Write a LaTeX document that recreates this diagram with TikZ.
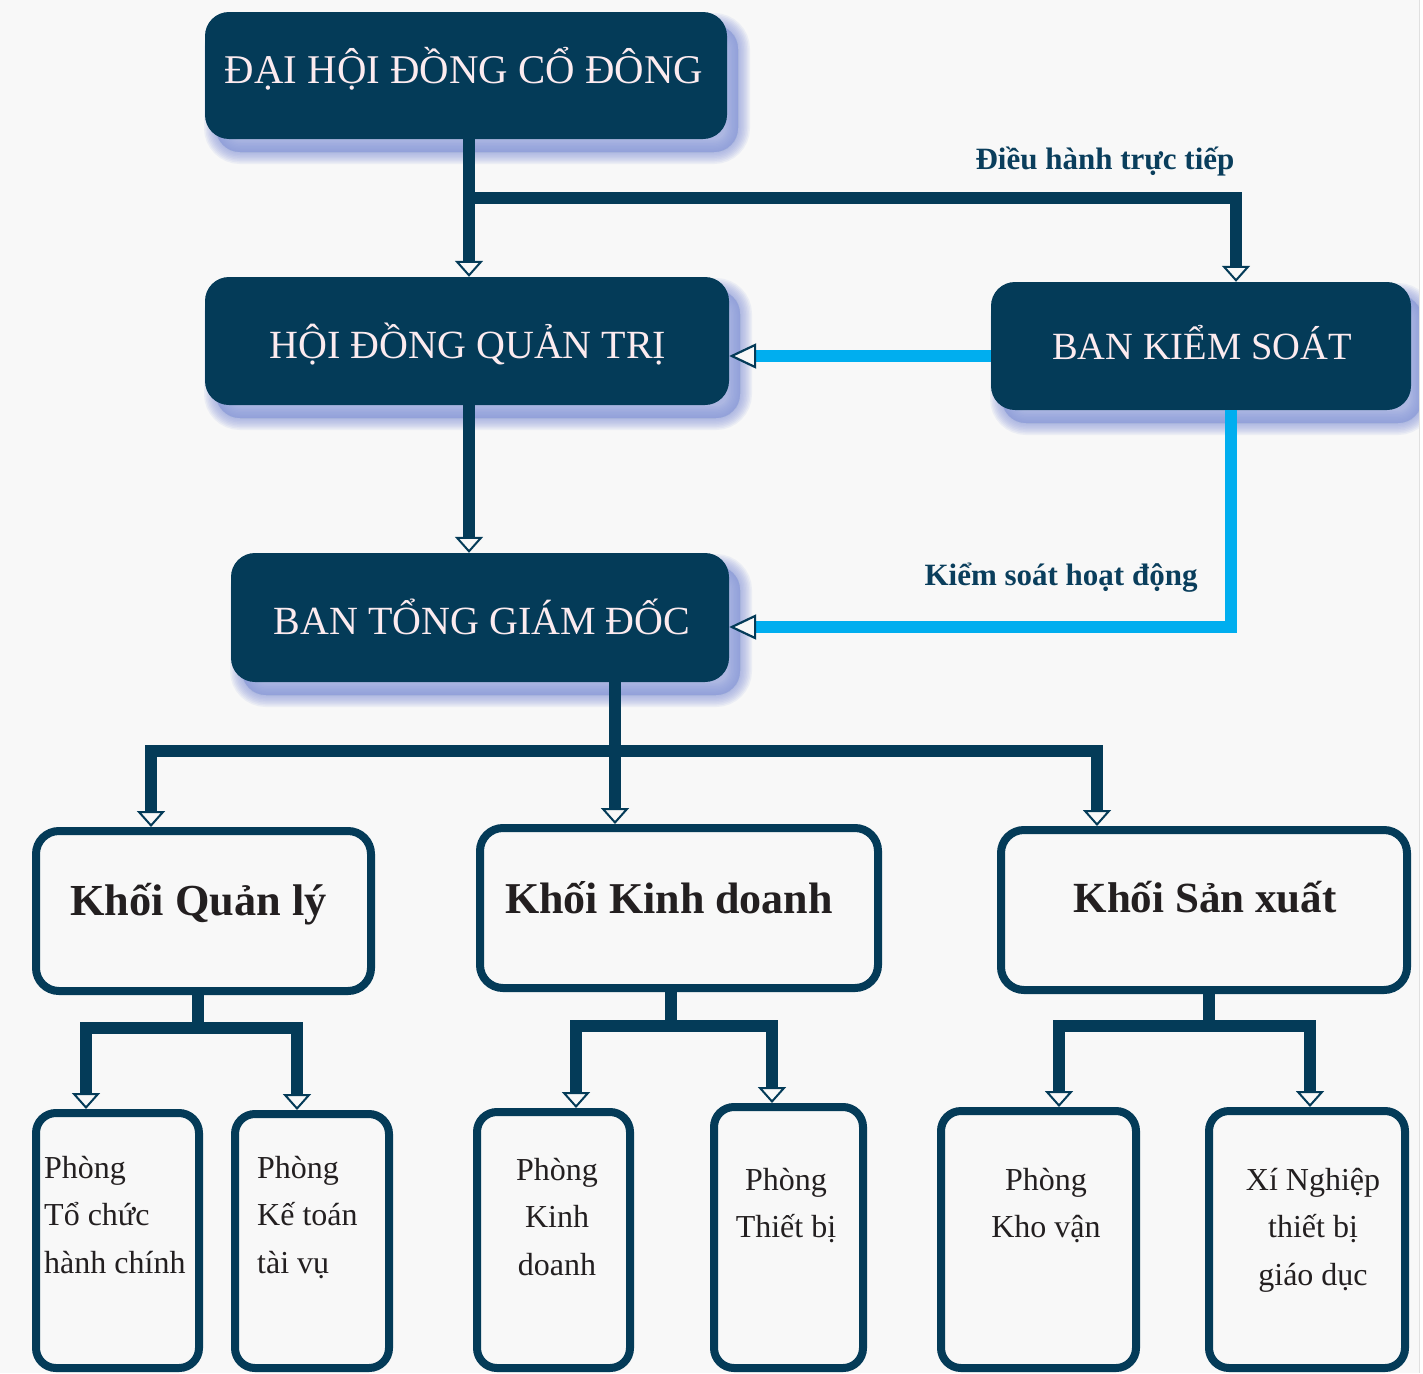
\documentclass[tikz,border=0pt]{standalone}
\usepackage{fontspec}
\setmainfont{Liberation Serif}
\usetikzlibrary{arrows.meta,calc}
\definecolor{navy}{RGB}{4,59,88}
\definecolor{cyanl}{RGB}{0,174,239}
\definecolor{bgc}{RGB}{248,248,248}
\definecolor{shc}{RGB}{136,154,218}
\definecolor{boxtext}{RGB}{252,235,239}
\definecolor{ink}{RGB}{35,31,32}
\definecolor{labc}{RGB}{10,62,92}
\newcommand{\TabC}[1]{\begin{tabular}[t]{@{}c@{}}#1\end{tabular}}
\newcommand{\TabL}[1]{\begin{tabular}[t]{@{}l@{}}#1\end{tabular}}
\begin{document}
\begin{tikzpicture}[x=1pt,y=-1pt,
  shadowlayer/.style={preaction={draw=shc, fill=shc, line width=#1, opacity=0.11,
      transform canvas={shift={(11pt,-13pt)}}}},
  darkbox/.style={shape=rectangle, fill=navy, rounded corners=24pt, inner sep=0pt,
      shadowlayer=24pt, shadowlayer=21pt, shadowlayer=18pt, shadowlayer=15pt,
      shadowlayer=12pt, shadowlayer=9pt, shadowlayer=6pt, shadowlayer=3pt, shadowlayer=0.1pt},
  linebox/.style={shape=rectangle, draw=navy, line width=8pt, fill=bgc, rounded corners=#1, inner sep=0pt},
  toptext/.style={text=boxtext, font=\fontsize{40}{48}\selectfont, anchor=base, inner sep=0pt},
  khoitext/.style={text=ink, font=\bfseries\fontsize{43}{50}\selectfont, anchor=base, inner sep=0pt},
  lab/.style={text=labc, font=\bfseries\fontsize{31}{37}\selectfont, anchor=base, inner sep=0pt},
  subtext/.style={text=ink, font=\fontsize{32}{47.5}\selectfont, inner sep=0pt},
  conn/.style={draw=navy, line width=12pt, line join=miter,
      -{Triangle[color=navy, fill=bgc, width=28pt 0 0, length=16pt 0 0, line width=2pt 0 0]}},
  cconn/.style={draw=cyanl, line width=12pt, line join=miter,
      -{Triangle[color=navy, fill=bgc, width=25pt 0 0, length=27pt 0 0, line width=2.2pt 0 0]}},
]
\useasboundingbox (0,0) rectangle (1423,1373);
\fill[bgc] (0,0) rectangle (1423,1373);

% dark boxes
\node[darkbox, minimum width=522pt, minimum height=127pt] (D) at (466,75.5) {};
\node[darkbox, minimum width=524pt, minimum height=128pt] (H) at (467,341) {};
\node[darkbox, minimum width=420pt, minimum height=128pt] (K) at (1201,346) {};
\node[darkbox, minimum width=498pt, minimum height=129pt] (T) at (480,617.5) {};

% outlined boxes
\node[linebox=23pt, minimum width=335pt, minimum height=160pt] (Q) at (203.5,911) {};
\node[linebox=23pt, minimum width=398pt, minimum height=160pt] (KD) at (679,908) {};
\node[linebox=23pt, minimum width=406pt, minimum height=160pt] (SX) at (1204,910) {};

\node[linebox=20pt, minimum width=163pt, minimum height=255pt] (P1) at (117.5,1240.5) {};
\node[linebox=20pt, minimum width=154pt, minimum height=254pt] (P2) at (312,1241) {};
\node[linebox=20pt, minimum width=153pt, minimum height=256pt] (P3) at (553.5,1240) {};
\node[linebox=20pt, minimum width=149pt, minimum height=261pt] (P4) at (788.5,1237.5) {};
\node[linebox=20pt, minimum width=195pt, minimum height=257pt] (P5) at (1038.5,1239.5) {};
\node[linebox=20pt, minimum width=196pt, minimum height=257pt] (P6) at (1307,1239.5) {};

% helper coordinates
\coordinate (hx) at (469,0);
\coordinate (j1) at (1236,198);
\coordinate (ky) at ([yshift=-10pt]K.west);
\coordinate (kx) at ([xshift=30pt]K.south);
\coordinate (ty) at ([yshift=-9.5pt]T.east);
\coordinate (tx) at (615,751);
\coordinate (bl) at (151,751);
\coordinate (br) at (1097,751);
\coordinate (q0) at (198,1028);
\coordinate (q1) at (86,1028);
\coordinate (q2) at (297,1028);
\coordinate (k0) at (671,1026);
\coordinate (k1) at (576,1026);
\coordinate (k2) at (772,1026);
\coordinate (s0) at (1209,1026);
\coordinate (s1) at (1059,1026);
\coordinate (s2) at (1310,1026);

% connectors
\draw[conn] (D.south -| hx) -- (H.north -| hx);
\draw[conn] (D.south -| hx) |- (j1) -- (j1 |- K.north);
\draw[cconn] (ky) -- (ky -| H.east);
\draw[cconn] (kx) |- (ty);
\draw[conn] (H.south -| hx) -- (T.north -| hx);

\draw[conn] (T.south -| tx) |- (bl) -- (bl |- Q.north);
\draw[conn] (T.south -| tx) -- (KD.north -| tx);
\draw[conn] (T.south -| tx) |- (br) -- (br |- SX.north);

\draw[conn] (Q.south -| q0) |- (q1) -- (q1 |- P1.north);
\draw[conn] (Q.south -| q0) |- (q2) -- (q2 |- P2.north);
\draw[conn] (KD.south -| k0) |- (k1) -- (k1 |- P3.north);
\draw[conn] (KD.south -| k0) |- (k2) -- (k2 |- P4.north);
\draw[conn] (SX.south -| s0) |- (s1) -- (s1 |- P5.north);
\draw[conn] (SX.south -| s0) |- (s2) -- (s2 |- P6.north);

% texts
\node[toptext, font=\fontsize{40.8}{48}\selectfont] (Dt) at (464,83) {ĐẠI HỘI ĐỒNG CỔ ĐÔNG};
\node[toptext] (Ht) at (468,358) {HỘI ĐỒNG QUẢN TRỊ};
\node[toptext, font=\fontsize{38.5}{46}\selectfont] (Kt) at (1202,359) {BAN KIỂM SOÁT};
\node[toptext] (Tt) at (482,634) {BAN TỔNG GIÁM ĐỐC};

\node[lab] (L1) at (1105,169) {Điều hành trực tiếp};
\node[lab] (L2) at (1061,585) {Kiểm soát hoạt động};

\node[khoitext, font=\bfseries\fontsize{44.3}{50}\selectfont] (Qt) at (198.5,915) {Khối Quản lý};
\node[khoitext, font=\bfseries\fontsize{44}{50}\selectfont] (KDt) at (669,913) {Khối Kinh doanh};
\node[khoitext] (SXt) at (1205,912) {Khối Sản xuất};

\node[subtext, anchor=base west] (P1t) at (44,1178) {\TabL{Phòng\\Tổ chức\\hành chính}};
\node[subtext, anchor=base west] (P2t) at (257,1178) {\TabL{Phòng\\Kế toán\\tài vụ}};
\node[subtext, anchor=base] (P3t) at (557,1180) {\TabC{Phòng\\Kinh\\doanh}};
\node[subtext, anchor=base] (P4t) at (786,1190) {\TabC{Phòng\\Thiết bị}};
\node[subtext, anchor=base] (P5t) at (1046,1190) {\TabC{Phòng\\Kho vận}};
\node[subtext, anchor=base] (P6t) at (1313,1190) {\TabC{Xí Nghiệp\\thiết bị\\giáo dục}};

% right edge strip
\fill[white] (1419,0) rectangle (1423,1373);
\draw[black!12, line width=1pt] (1419.5,0) -- (1419.5,1373);
\end{tikzpicture}
\end{document}
